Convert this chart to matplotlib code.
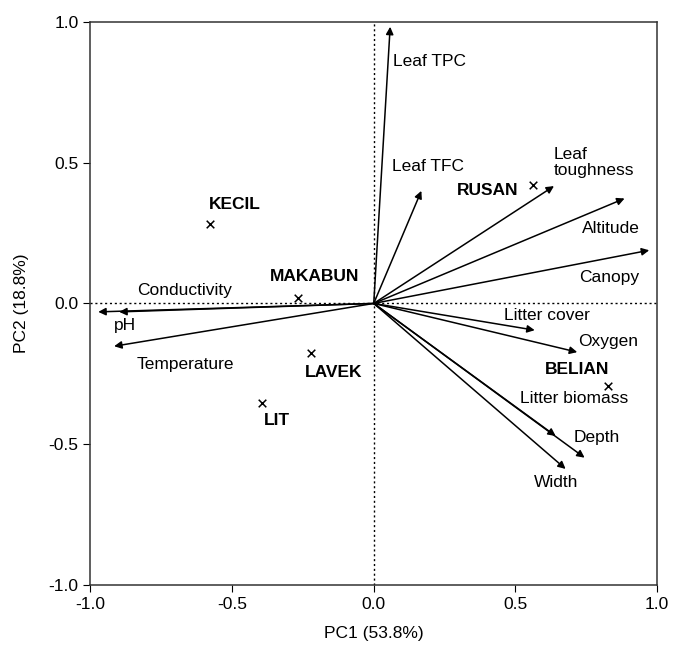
import matplotlib
matplotlib.use("Agg")
import matplotlib.pyplot as plt

plt.rcParams['font.family'] = ['Liberation Sans', 'DejaVu Sans']

# variable loadings (arrows)
var_names = ["Leaf TPC", "Leaf TFC", "Leaf toughness", "Altitude", "Canopy",
             "Litter cover", "Oxygen", "Litter biomass", "Depth", "Width",
             "Conductivity", "pH", "Temperature"]
var_pc1 = [0.058, 0.168, 0.636, 0.885, 0.972, 0.568, 0.718, 0.642, 0.744, 0.677,
           -0.898, -0.972, -0.916]
var_pc2 = [0.983, 0.400, 0.417, 0.373, 0.189, -0.095, -0.173, -0.471, -0.548, -0.588,
           -0.030, -0.030, -0.152]
# label positions for the variables
var_lab_x = [0.067, 0.064, 0.635, 0.938, 0.938, 0.459, 0.720, 0.515, 0.706, 0.564,
             -0.836, -0.918, -0.836]
var_lab_y = [0.860, 0.488, 0.500, 0.266, 0.092, -0.043, -0.134, -0.338, -0.477, -0.635,
             0.046, -0.080, -0.217]
var_lab_ha = ["left", "left", "left", "right", "right", "left", "left", "left", "left",
              "left", "left", "left", "left"]
var_lab_text = ["Leaf TPC", "Leaf TFC", "Leaf\ntoughness", "Altitude", "Canopy",
                "Litter cover", "Oxygen", "Litter biomass", "Depth", "Width",
                "Conductivity", "pH", "Temperature"]

# site scores
sites = ["KECIL", "MAKABUN", "RUSAN", "LAVEK", "LIT", "BELIAN"]
site_pc1 = [-0.578, -0.266, 0.562, -0.222, -0.393, 0.827]
site_pc2 = [0.284, 0.020, 0.420, -0.175, -0.355, -0.294]
site_lab_x = [-0.582, -0.210, 0.511, -0.243, -0.389, 0.716]
site_lab_y = [0.352, 0.097, 0.400, -0.244, -0.415, -0.235]
site_lab_ha = ["left", "center", "right", "left", "left", "center"]

fs = 12.5

fig = plt.figure(figsize=(6.74, 6.47), dpi=100)
ax = fig.add_axes([0.134, 0.096, 0.841, 0.870])

ax.axhline(0, color="black", ls=(0, (1.5, 2)), lw=1)
ax.axvline(0, color="black", ls=(0, (1.5, 2)), lw=1)

for i in range(len(var_names)):
    ax.annotate("", xy=(var_pc1[i], var_pc2[i]), xytext=(0, 0),
                arrowprops=dict(arrowstyle="-|>", color="black", lw=1.1,
                                mutation_scale=11, shrinkA=0, shrinkB=0))
    ax.text(var_lab_x[i], var_lab_y[i], var_lab_text[i], ha=var_lab_ha[i],
            va="center", fontsize=fs, linespacing=1.1)

ax.scatter(site_pc1, site_pc2, marker="x", color="black", s=30, lw=1.1, zorder=3)
for i in range(len(sites)):
    ax.text(site_lab_x[i], site_lab_y[i], sites[i], ha=site_lab_ha[i],
            va="center", fontsize=fs, fontweight="bold")

ax.set_xlim(-1, 1)
ax.set_ylim(-1, 1)
ticks = [-1.0, -0.5, 0.0, 0.5, 1.0]
ax.set_xticks(ticks)
ax.set_yticks(ticks)
ax.set_xticklabels(["-1.0", "-0.5", "0.0", "0.5", "1.0"])
ax.set_yticklabels(["-1.0", "-0.5", "0.0", "0.5", "1.0"])
ax.tick_params(direction="out", length=5, labelsize=fs)
ax.set_xlabel("PC1 (53.8%)", fontsize=fs, labelpad=10)
ax.set_ylabel("PC2 (18.8%)", fontsize=fs, labelpad=14)
for s in ax.spines.values():
    s.set_linewidth(1.1)
    s.set_color("#333333")

fig.savefig("out.png", dpi=100)
